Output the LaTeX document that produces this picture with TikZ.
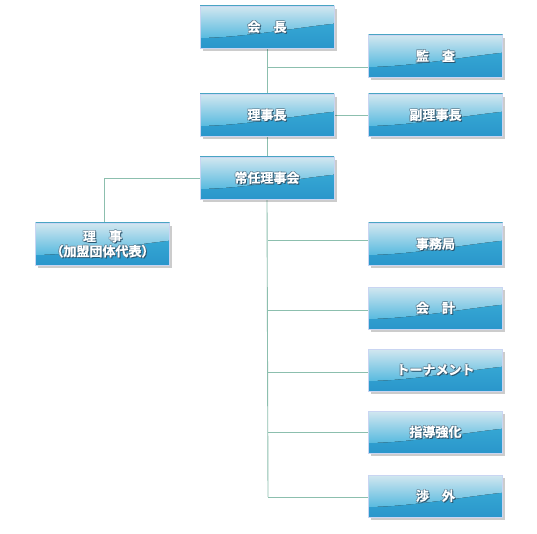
\documentclass[tikz,border=0pt]{standalone}
\usepackage{fontspec}
\newfontfamily\cjk{Noto Sans CJK JP}[BoldFont={Noto Sans CJK JP Bold},BoldFeatures={FakeBold=0.8}]
\usetikzlibrary{calc,shadows,backgrounds}
\definecolor{boxtop}{HTML}{D2E7F0}
\definecolor{boxglossbot}{HTML}{58BADF}
\definecolor{boxbasetop}{HTML}{3DB2D9}
\definecolor{boxbasebot}{HTML}{2A96CB}
\definecolor{boxedge}{HTML}{C9D5F2}
\definecolor{linecol}{HTML}{8CBFAE}
\definecolor{txtshadow}{HTML}{2A5670}
\newcommand\sh[1]{\leavevmode\rlap{\textcolor{txtshadow!70}{\kern-0.6pt\raisebox{0.6pt}{#1}}}\rlap{\textcolor{txtshadow!70}{\kern0.6pt\raisebox{0.6pt}{#1}}}\rlap{\textcolor{txtshadow!70}{\kern-0.6pt\raisebox{-0.6pt}{#1}}}\rlap{\textcolor{txtshadow}{\kern1pt\raisebox{-1pt}{#1}}}#1}
\tikzset{
  orgbox/.style={draw=boxedge, line width=0.8pt, minimum width=134pt, minimum height=42pt,
    inner sep=0pt, text=white, align=center,
    font=\cjk\bfseries\fontsize{13}{16}\selectfont,
    drop shadow={shadow xshift=2.5pt, shadow yshift=-3pt, opacity=0.2, fill=black},
    path picture={
      \fill[top color=boxbasetop, bottom color=boxbasebot]
        (path picture bounding box.north west) rectangle (path picture bounding box.south east);
      \fill[top color=boxtop, bottom color=boxglossbot]
        (path picture bounding box.north west) -- (path picture bounding box.north east)
        -- ($(path picture bounding box.north east)!0.42!(path picture bounding box.south east)$)
        .. controls ($(path picture bounding box.north east)!0.5!(path picture bounding box.south)$)
        and ($(path picture bounding box.north west)!0.76!(path picture bounding box.south west)+(40pt,0)$) ..
        ($(path picture bounding box.north west)!0.76!(path picture bounding box.south west)$) -- cycle;
    }},
  conn/.style={draw=linecol, line width=0.9pt}
}
\begin{document}
\begin{tikzpicture}[x=1pt,y=-1pt]
\useasboundingbox (0,0) rectangle (537,534);
% boxes
\node[orgbox] (kaicho) at (267,27) {\sh{会　長}};
\node[orgbox] (kansa) at (435.5,56) {\sh{監　査}};
\node[orgbox] (rijicho) at (267,115) {\sh{理事長}};
\node[orgbox] (fuku) at (435.5,115) {\sh{副理事長}};
\node[orgbox] (jonin) at (267,178) {\sh{常任理事会}};
\node[orgbox] (riji) at (102.5,244) {\sh{理　事}\\[-1pt]\sh{（加盟団体代表）}};
\node[orgbox] (jimu) at (435.5,244) {\sh{事務局}};
\node[orgbox] (kaikei) at (435.5,308) {\sh{会　計}};
\node[orgbox] (tour) at (435.5,370) {\sh{トーナメント}};
\node[orgbox] (shido) at (435.5,432) {\sh{指導強化}};
\node[orgbox] (shogai) at (435.5,496) {\sh{渉　外}};
% branch points
\coordinate (b0) at (268,67);
\coordinate (b1) at (268,240);
\coordinate (b2) at (268,310);
\coordinate (b3) at (268,372);
\coordinate (b4) at (268,432);
\coordinate (b5) at (268,497);
\coordinate (tl) at (104,178);
\begin{scope}[on background layer]
\fill[white] (0,0) rectangle (537,534);
\draw[conn] (kaicho.south) -- (rijicho.north);
\draw[conn] (rijicho.south) -- (jonin.north);
\draw[conn] (jonin.south) -- (b5);
\draw[conn] (b0) -- (b0 -| kansa.west);
\draw[conn] (rijicho.east) -- (fuku.west);
\draw[conn] (jonin.west) -- (tl) -- (tl |- riji.north);
\draw[conn] (b1) -- (b1 -| jimu.west);
\draw[conn] (b2) -- (b2 -| kaikei.west);
\draw[conn] (b3) -- (b3 -| tour.west);
\draw[conn] (b4) -- (b4 -| shido.west);
\draw[conn] (b5) -- (b5 -| shogai.west);
\end{scope}
\end{tikzpicture}
\end{document}
